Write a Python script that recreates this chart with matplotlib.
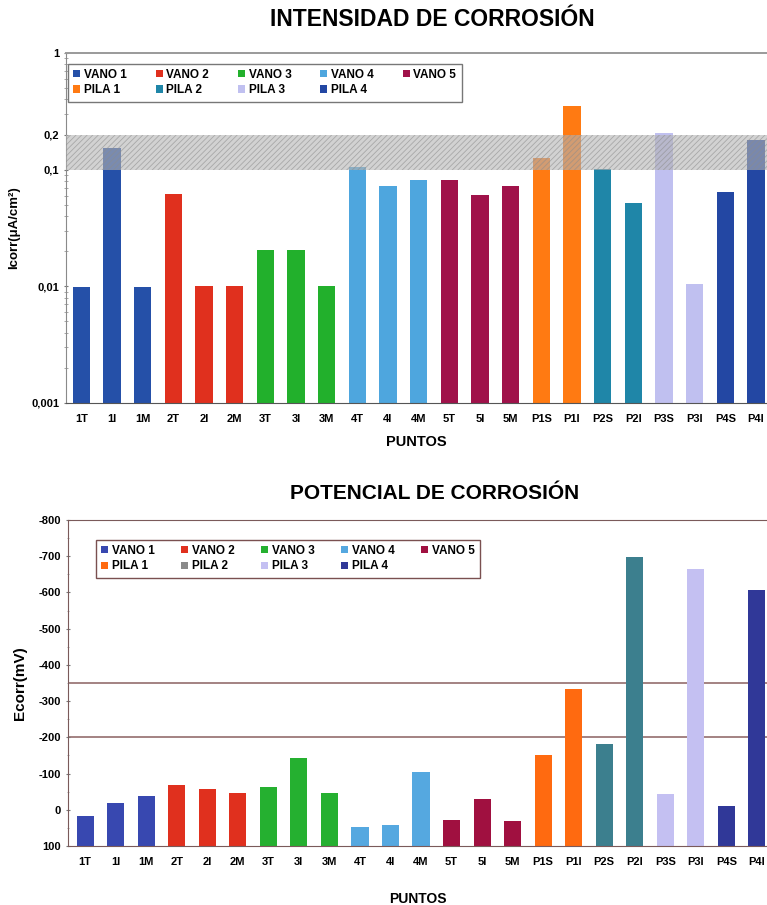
import matplotlib
matplotlib.use("Agg")
import matplotlib.pyplot as plt
from matplotlib.patches import Patch
from matplotlib.ticker import FixedLocator, LogLocator, NullFormatter, MultipleLocator

plt.rcParams["font.family"] = ["Liberation Sans", "DejaVu Sans"]
plt.rcParams["font.weight"] = "bold"
plt.rcParams["axes.labelweight"] = "bold"
plt.rcParams["axes.unicode_minus"] = False
plt.rcParams["hatch.linewidth"] = 0.6

# puntos de medida y grupo (vano / pila) al que pertenece cada uno
puntos = ["1T", "1I", "1M", "2T", "2I", "2M", "3T", "3I", "3M",
          "4T", "4I", "4M", "5T", "5I", "5M",
          "P1S", "P1I", "P2S", "P2I", "P3S", "P3I", "P4S", "P4I"]
grupo = [0, 0, 0, 1, 1, 1, 2, 2, 2, 3, 3, 3, 4, 4, 4, 5, 5, 6, 6, 7, 7, 8, 8]
grupos = ["VANO 1", "VANO 2", "VANO 3", "VANO 4", "VANO 5",
          "PILA 1", "PILA 2", "PILA 3", "PILA 4"]

# intensidad de corrosion (uA/cm2)
icorr = [0.0099, 0.152, 0.0099, 0.062, 0.0101, 0.0101, 0.0205, 0.0205, 0.0101,
         0.105, 0.072, 0.082, 0.082, 0.061, 0.072,
         0.125, 0.35, 0.102, 0.052, 0.205, 0.0104, 0.064, 0.18]

# potencial de corrosion (mV)
ecorr = [17, -20, -38, -68, -56, -45, -63, -142, -47,
         47, 42, -105, 28, -29, 31,
         -150, -333, -181, -697, -43, -665, -11, -607]

icorr_ticks = [0.001, 0.01, 0.1, 0.2, 1]
icorr_ticklabels = ["0,001", "0,01", "0,1", "0,2", "1"]
banda_icorr = (0.1, 0.2)
limites_ecorr = [-350, -200]

col_i = ["#2550a8", "#e0301e", "#22b02c", "#4ea6de", "#a0124a",
         "#ff7a12", "#1f86a8", "#c0c0f0", "#2347a3"]
col_e = ["#3848b0", "#e0301e", "#25b030", "#55a8e0", "#a01040",
         "#ff6a10", "#3c7f8e", "#c4c0f2", "#303898"]
col_e_leyenda = col_e[:6] + ["#8a8a8a"] + col_e[7:]

x = list(range(len(puntos)))


def leyenda(ax, colores, anchor, edge, spacing):
    # orden por columnas: VANO arriba, PILA abajo
    orden = [0, 5, 1, 6, 2, 7, 3, 8, 4]
    handles = [Patch(facecolor=colores[i], edgecolor="none") for i in orden]
    labels = [grupos[i] for i in orden]
    leg = ax.legend(handles, labels, ncol=5, loc="upper left", bbox_to_anchor=anchor,
                    fontsize=8.5, handlelength=0.6, handleheight=0.6, handletextpad=0.3,
                    columnspacing=spacing, labelspacing=0.3, borderpad=0.45,
                    borderaxespad=0, fancybox=False, framealpha=1, edgecolor=edge)
    leg.get_frame().set_linewidth(1.0)
    return leg


fig = plt.figure(figsize=(7.67, 9.05), dpi=100, facecolor="white")

# ---------------- intensidad de corrosion ----------------
ax1 = fig.add_axes([0.086, 0.5547, 0.914, 0.3867])
ax1.bar(x, icorr, width=0.56, color=[col_i[g] for g in grupo], zorder=2)
ax1.set_yscale("log")
ax1.set_ylim(0.001, 1)
ax1.set_xlim(-0.5, 22.36)
ax1.axhspan(*banda_icorr, facecolor="#b4b4b4", edgecolor="#8c8c8c", hatch="//////",
            linewidth=0, alpha=0.6, zorder=3)
ax1.yaxis.set_major_locator(FixedLocator(icorr_ticks))
ax1.set_yticklabels(icorr_ticklabels)
ax1.yaxis.set_minor_locator(LogLocator(base=10, subs=range(2, 10)))
ax1.yaxis.set_minor_formatter(NullFormatter())
ax1.set_xticks(x)
ax1.set_xticklabels(puntos, fontsize=8)
ax1.tick_params(axis="y", labelsize=8, length=3, direction="inout", color="#777777")
ax1.tick_params(axis="y", which="minor", length=2.5, direction="inout", color="#999999")
ax1.tick_params(axis="x", length=0, pad=8)
ax1.spines["right"].set_visible(False)
ax1.spines["top"].set_color("#9a9a9a")
ax1.spines["left"].set_color("#8a8a8a")
ax1.spines["bottom"].set_color("#555555")
ax1.spines["top"].set_linewidth(1.4)
ax1.set_ylabel("Icorr(μA/cm²)", fontsize=9.5, labelpad=8)
ax1.set_xlabel("PUNTOS", fontsize=10.5, labelpad=8)
leyenda(ax1, col_i, (0.003, 0.97), "#777777", 2.45)
fig.text(0.563, 0.978, "INTENSIDAD DE CORROSIÓN", fontsize=16.5,
         ha="center", va="center")

# ---------------- potencial de corrosion ----------------
ax2 = fig.add_axes([0.0887, 0.0652, 0.9113, 0.3602])
base = 100
ax2.bar(x, [v - base for v in ecorr], bottom=base, width=0.56,
        color=[col_e[g] for g in grupo], zorder=2)
ax2.set_ylim(100, -800)
ax2.set_xlim(-0.56, 22.33)
for lim in limites_ecorr:
    ax2.axhline(lim, color="#8a6060", linewidth=1.1, zorder=1)
ax2.yaxis.set_major_locator(MultipleLocator(100))
ax2.yaxis.set_minor_locator(MultipleLocator(50))
ax2.set_xticks(x)
ax2.set_xticklabels(puntos, fontsize=8)
ax2.tick_params(axis="y", labelsize=8, length=3, direction="inout", color="#777777")
ax2.tick_params(axis="y", which="minor", length=2, direction="inout", color="#999999")
ax2.tick_params(axis="x", length=0, pad=8)
ax2.spines["right"].set_visible(False)
for s in ["top", "left", "bottom"]:
    ax2.spines[s].set_color("#7a5a5a")
ax2.set_ylabel("Ecorr(mV)", fontsize=11, labelpad=8)
ax2.set_xlabel("PUNTOS", fontsize=10, labelpad=18)
leyenda(ax2, col_e_leyenda, (0.04, 0.94), "#7a5050", 2.25)
fig.text(0.567, 0.455, "POTENCIAL DE CORROSIÓN", fontsize=15, ha="center", va="center")

fig.savefig("out.png", dpi=100, facecolor="white")
